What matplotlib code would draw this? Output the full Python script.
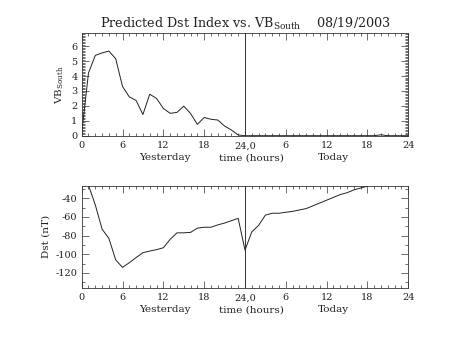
import numpy as np
import matplotlib
matplotlib.use("Agg")
import matplotlib.pyplot as plt
from matplotlib.ticker import MultipleLocator, FixedLocator

# hours since start of yesterday (0-48)
vb_hours = list(range(0, 49))
vb_south = [0.15, 4.2, 5.38, 5.55, 5.67, 5.16, 3.3, 2.6, 2.36, 1.42, 2.78, 2.5,
            1.83, 1.5, 1.56, 1.98, 1.49, 0.76, 1.22, 1.1, 1.05, 0.65, 0.38, 0.05,
            0, 0, 0, 0, 0, 0, 0, 0, 0, 0, 0, 0, 0, 0, 0, 0, 0, 0, 0, 0,
            0.06, 0, 0, 0, 0]

dst_hours = list(range(1, 43))
dst = [-26, -47, -73, -83, -106, -114, -109, -103.5, -98.3, -96.5, -95, -93,
       -84, -77, -77, -76.5, -72, -71, -71, -68.5, -66.5, -64, -61.5, -95.5,
       -76, -69, -58, -56, -56, -55, -54, -52.5, -51, -48, -45, -42, -39, -36,
       -34, -31, -29, -27]

xtick_pos = [0, 6, 12, 18, 24, 30, 36, 42, 48]
xtick_lab = ["0", "6", "12", "18", "24,0", "6", "12", "18", "24"]
xtitles = [(12.3, "Yesterday"), (25.0, "time (hours)"), (37.0, "Today")]

plt.rcParams["font.family"] = ["DejaVu Serif"]
plt.rcParams["mathtext.fontset"] = "dejavuserif"
plt.rcParams["axes.unicode_minus"] = False

fig = plt.figure(figsize=(4.53, 3.4), dpi=100)
ax1 = fig.add_axes([0.1803, 0.6009, 0.721, 0.3006])
ax2 = fig.add_axes([0.1803, 0.1538, 0.721, 0.3])


def style(ax):
    ax.set_xlim(0, 48)
    ax.xaxis.set_major_locator(FixedLocator(xtick_pos))
    ax.set_xticklabels(xtick_lab)
    ax.xaxis.set_minor_locator(MultipleLocator(1))
    ax.tick_params(which="both", direction="in", top=True, right=True,
                   width=0.5, labelsize=7, color="#333333", labelcolor="#222222")
    ax.tick_params(which="major", length=5)
    ax.tick_params(which="minor", length=2.5)
    ax.tick_params(axis="x", pad=4)
    ax.tick_params(axis="y", pad=3)
    for s in ax.spines.values():
        s.set_linewidth(0.6)
        s.set_color("#333333")
    ax.axvline(24, color="#333333", lw=0.7)
    for x, t in xtitles:
        ax.text(x, -0.24, t, transform=ax.get_xaxis_transform(),
                ha="center", va="baseline", fontsize=7.5, color="#222222")


ax1.plot(vb_hours, vb_south, color="#222222", lw=0.7)
style(ax1)
ax1.set_ylim(0, 6.85)
ax1.yaxis.set_major_locator(MultipleLocator(1))
ax1.yaxis.set_minor_locator(MultipleLocator(0.1))
ax1.set_ylabel("VB$_{\\rm South}$", fontsize=7.5, labelpad=4, color="#222222")
ax1.set_title("Predicted Dst Index vs. VB$_{\\rm South}$    08/19/2003",
              fontsize=9.2, pad=4, color="#222222")

ax2.plot(dst_hours, dst, color="#222222", lw=0.7)
style(ax2)
ax2.set_ylim(-135.8, -26.5)
ax2.yaxis.set_major_locator(MultipleLocator(20))
ax2.yaxis.set_minor_locator(MultipleLocator(10))
ax2.set_ylabel("Dst (nT)", fontsize=7.5, labelpad=4, color="#222222")

fig.savefig("out.png", dpi=100)
